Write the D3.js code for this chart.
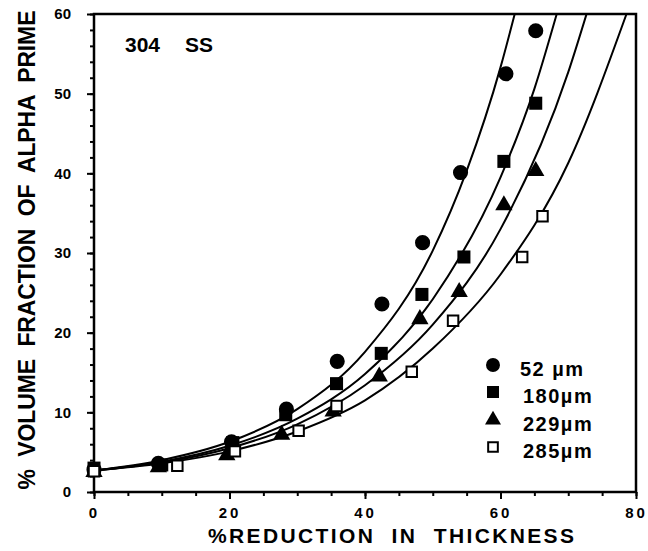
<!DOCTYPE html>
<html>
<head>
<meta charset="utf-8">
<script src="https://cdn.jsdelivr.net/npm/d3@7"></script>
<style>
  body { margin: 0; background: #fff; }
  svg { display: block; font-family: "Liberation Sans", Arial, sans-serif; }
</style>
</head>
<body>
<div id="chart"></div>
<script>
const reduction52 = [0, 9.5, 20.3, 28.4, 35.9, 42.5, 48.5, 54.1, 60.8, 65.2];
const frac52 = [2.8, 3.6, 6.3, 10.4, 16.4, 23.6, 31.3, 40.1, 52.5, 57.9];
const reduction180 = [0, 10, 20.5, 28.3, 35.8, 42.4, 48.4, 54.6, 60.5, 65.2];
const frac180 = [3.0, 3.4, 6.2, 9.7, 13.6, 17.4, 24.8, 29.5, 41.5, 48.8];
const reduction229 = [0, 9.5, 19.6, 27.7, 35.3, 42.1, 48.1, 53.9, 60.5, 65.2];
const frac229 = [2.5, 3.1, 4.6, 7.2, 10.1, 14.5, 21.7, 25.1, 36.0, 40.3];
const reduction285 = [0, 12.3, 20.8, 30.2, 35.8, 46.9, 53.0, 63.2, 66.2];
const frac285 = [2.6, 3.3, 5.1, 7.7, 10.8, 15.1, 21.5, 29.5, 34.6];

// fitted curves
const curve52X = [0, 10, 20, 30, 40, 50, 55, 60, 62.1];
const curve52Y = [2.7, 4.0, 6.3, 10.4, 17.6, 30.3, 40.3, 53.3, 60];
const curve180X = [0, 10, 20, 30, 40, 50, 60, 65, 68.3];
const curve180Y = [2.7, 3.8, 5.8, 9.2, 14.8, 24.2, 39.5, 50.6, 60];
const curve229X = [0, 10, 20, 30, 40, 50, 60, 70, 72.7];
const curve229Y = [2.7, 3.7, 5.5, 8.5, 13.4, 21.0, 33.0, 52.7, 60];
const curve285X = [0, 10, 20, 30, 40, 50, 60, 70, 78.6];
const curve285Y = [2.7, 3.6, 5.1, 7.6, 11.5, 18.0, 27.3, 41.3, 60];

const seriesNames = ['52 \u00b5m', '180\u00b5m', '229\u00b5m', '285\u00b5m'];
const xTicks = [0, 20, 40, 60, 80];
const yTicks = [0, 10, 20, 30, 40, 50, 60];

const width = 648, height = 551;

const x = d3.scaleLinear().domain([0, 80]).range([94, 636]);
const y = d3.scaleLinear().domain([0, 60]).range([492, 14]);

const svg = d3.select('#chart').append('svg')
  .attr('width', width)
  .attr('height', height);

svg.append('clipPath').attr('id', 'plot-clip')
  .append('rect')
  .attr('x', x(0)).attr('y', y(60))
  .attr('width', x(80) - x(0)).attr('height', y(0) - y(60));

// axes
const xAxis = d3.axisBottom(x).tickValues(xTicks).tickSize(7).tickPadding(8);
const xMinor = d3.axisBottom(x).tickValues(d3.range(0, 81, 5)).tickSize(4).tickFormat('');
const yAxis = d3.axisLeft(y).tickValues(yTicks).tickSize(7).tickPadding(16);
const yMinor = d3.axisLeft(y).tickValues(d3.range(0, 61, 2)).tickSize(4).tickFormat('');

const gx = svg.append('g').attr('transform', 'translate(0,' + y(0) + ')').call(xMinor);
const gx2 = svg.append('g').attr('transform', 'translate(0,' + y(0) + ')').call(xAxis);
const gy = svg.append('g').attr('transform', 'translate(' + x(0) + ',0)').call(yMinor);
const gy2 = svg.append('g').attr('transform', 'translate(' + x(0) + ',0)').call(yAxis);

[gx, gx2, gy, gy2].forEach(g => {
  g.select('.domain').remove();
  g.selectAll('.tick line').attr('stroke', '#000').attr('stroke-width', 2);
});

gx2.selectAll('.tick text')
  .attr('font-size', 15)
  .attr('font-weight', 'bold')
  .attr('letter-spacing', 3)
  .attr('fill', '#000');
gy2.selectAll('.tick text')
  .attr('font-size', 15)
  .attr('font-weight', 'bold')
  .attr('fill', '#000');

// frame
svg.append('rect')
  .attr('x', x(0)).attr('y', y(60))
  .attr('width', x(80) - x(0)).attr('height', y(0) - y(60))
  .attr('fill', 'none')
  .attr('stroke', '#000')
  .attr('stroke-width', 2.5);

// curves
const line = d3.line()
  .x(d => x(d[0]))
  .y(d => y(d[1]))
  .curve(d3.curveMonotoneX);

const curves = [
  d3.zip(curve52X, curve52Y),
  d3.zip(curve180X, curve180Y),
  d3.zip(curve229X, curve229Y),
  d3.zip(curve285X, curve285Y),
];

svg.append('g').attr('clip-path', 'url(#plot-clip)')
  .selectAll('path')
  .data(curves)
  .enter().append('path')
  .attr('d', line)
  .attr('fill', 'none')
  .attr('stroke', '#000')
  .attr('stroke-width', 2);

// markers
const symbols = [
  { type: d3.symbolCircle, size: 180, fill: '#000' },
  { type: d3.symbolSquare, size: 170, fill: '#000' },
  { type: d3.symbolTriangle, size: 130, fill: '#000' },
  { type: d3.symbolSquare, size: 110, fill: '#fff' },
];

const points = [
  d3.zip(reduction52, frac52),
  d3.zip(reduction180, frac180),
  d3.zip(reduction229, frac229),
  d3.zip(reduction285, frac285),
];

points.forEach((pts, i) => {
  const s = symbols[i];
  svg.append('g').selectAll('path')
    .data(pts)
    .enter().append('path')
    .attr('transform', d => 'translate(' + x(d[0]) + ',' + y(d[1]) + ')')
    .attr('d', d3.symbol().type(s.type).size(s.size))
    .attr('fill', s.fill)
    .attr('stroke', '#000')
    .attr('stroke-width', i === 3 ? 2 : 0);
});

// legend
const legendY = [365, 392, 420, 447];
const legendTextX = [520, 523, 523, 523];
const legend = svg.append('g');
seriesNames.forEach((name, i) => {
  const s = symbols[i];
  legend.append('path')
    .attr('transform', 'translate(493,' + legendY[i] + ')')
    .attr('d', d3.symbol().type(s.type).size(s.size * 0.85))
    .attr('fill', s.fill)
    .attr('stroke', '#000')
    .attr('stroke-width', i === 3 ? 2 : 0);
  legend.append('text')
    .attr('x', legendTextX[i])
    .attr('y', legendY[i] + 11)
    .attr('font-size', 20)
    .attr('font-weight', 'bold')
    .attr('letter-spacing', 1.5)
    .style('white-space', 'pre')
    .text(name);
});

// labels
svg.append('text')
  .attr('x', 125).attr('y', 52)
  .attr('font-size', 21).attr('font-weight', 'bold')
  .text('304');
svg.append('text')
  .attr('x', 185).attr('y', 52)
  .attr('font-size', 21).attr('font-weight', 'bold')
  .text('SS');

svg.append('text')
  .attr('x', 208).attr('y', 543)
  .attr('font-size', 21).attr('font-weight', 'bold')
  .attr('textLength', 366)
  .style('white-space', 'pre')
  .text('%REDUCTION  IN  THICKNESS');

svg.append('text')
  .attr('transform', 'translate(35,250) rotate(-90)')
  .attr('text-anchor', 'middle')
  .attr('font-size', 23).attr('font-weight', 'bold')
  .attr('textLength', 479)
  .style('white-space', 'pre')
  .text('%  VOLUME  FRACTION  OF  ALPHA  PRIME');
</script>
</body>
</html>
